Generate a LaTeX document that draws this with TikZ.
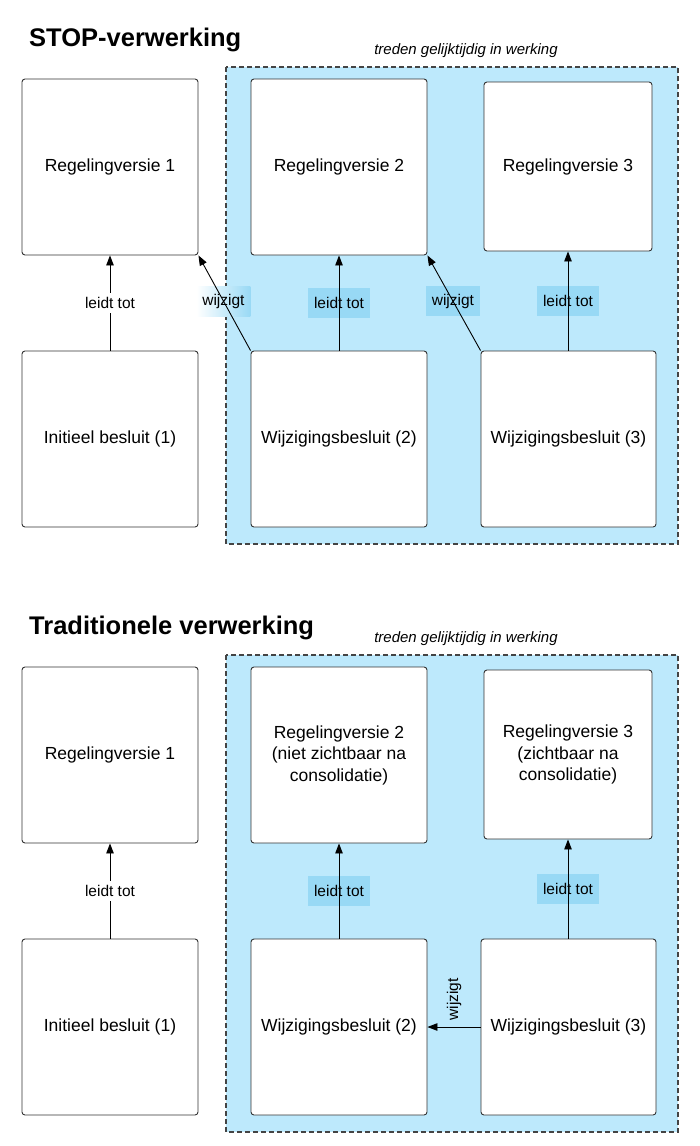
\documentclass[tikz,border=0pt]{standalone}
\usepackage{fontspec}
\setmainfont{Liberation Sans}
\usetikzlibrary{arrows.meta}
\definecolor{regionblue}{HTML}{BDE9FC}
\definecolor{labelblue}{HTML}{98D9F5}
\definecolor{boxline}{HTML}{333333}
\definecolor{dashline}{HTML}{444444}
\begin{document}
\begin{tikzpicture}[x=1pt,y=-1pt,
  box/.style={draw=boxline, line width=0.9pt, rounded corners=3pt, fill=white,
    minimum width=176pt, minimum height=176pt, inner sep=2pt, align=center,
    font=\fontsize{17.5}{21.5}\selectfont},
  smallbox/.style={box, minimum width=168pt, minimum height=169pt},
  region/.style={draw=dashline, dash pattern=on 5pt off 3pt, line width=1.1pt, fill=regionblue},
  arr/.style={-{Triangle[length=10pt,width=7.5pt]}, line width=0.9pt, draw=black},
  lbl/.style={font=\fontsize{15.5}{18}\selectfont, inner sep=0pt, minimum height=30pt},
  bluelbl/.style={lbl, behind path, fill=labelblue, minimum width=62pt},
  wlbl/.style={lbl, behind path, minimum width=54pt},
  title/.style={anchor=base west, inner sep=0pt, font=\fontsize{25.5}{30}\selectfont\bfseries},
  note/.style={anchor=base, inner sep=0pt, font=\fontsize{15}{18}\selectfont\itshape}
]
\useasboundingbox (0,0) rectangle (700,1146);
\fill[white] (0,0) rectangle (700,1146);

% ---------- STOP-verwerking ----------
\node[title] (t1) at (29,46) {STOP-verwerking};
\node[note] (n1) at (466,54.5) {treden gelijktijdig in werking};
\draw[region] (226,67) rectangle (678,544);

\node[box] (r1) at (110,167) {Regelingversie 1};
\node[box] (r2) at (339,167) {Regelingversie 2};
\node[smallbox] (r3) at (568,166.5) {Regelingversie 3};
\node[box] (i1) at (110,439) {Initieel besluit (1)};
\node[box] (w2) at (339,439) {Wijzigingsbesluit (2)};
\node[box, minimum width=175pt] (w3) at (568.5,439) {Wijzigingsbesluit (3)};

\draw[arr] (i1.north) -- node[lbl, fill=white, minimum height=20pt, inner sep=2pt] {leidt tot} (r1.south);
\draw[arr] (w2.north) -- node[bluelbl] {leidt tot} (r2.south);
\draw[arr] (w3.north -| r3.south) -- node[bluelbl] {leidt tot} (r3.south);
\draw[arr] (w2.north west) -- node[wlbl, left color=white, right color=labelblue, pos=0.52] {wijzigt} (r1.south east);
\draw[arr] (w3.north west) -- node[wlbl, fill=labelblue, pos=0.52] {wijzigt} (r2.south east);

% ---------- Traditionele verwerking ----------
\node[title] (t2) at (29,634) {Traditionele verwerking};
\node[note] (n2) at (466,642.5) {treden gelijktijdig in werking};
\draw[region] (226,655) rectangle (678,1132);

\node[box] (r1b) at (110,755) {Regelingversie 1};
\node[box] (r2b) at (339,755) {Regelingversie 2\\(niet zichtbaar na\\consolidatie)};
\node[smallbox] (r3b) at (568,754.5) {Regelingversie 3\\(zichtbaar na\\consolidatie)};
\node[box] (i1b) at (110,1027) {Initieel besluit (1)};
\node[box] (w2b) at (339,1027) {Wijzigingsbesluit (2)};
\node[box, minimum width=175pt] (w3b) at (568.5,1027) {Wijzigingsbesluit (3)};

\draw[arr] (i1b.north) -- node[lbl, fill=white, minimum height=20pt, inner sep=2pt] {leidt tot} (r1b.south);
\draw[arr] (w2b.north) -- node[bluelbl] {leidt tot} (r2b.south);
\draw[arr] (w3b.north -| r3b.south) -- node[bluelbl] {leidt tot} (r3b.south);
\draw[arr] (w3b.west) -- node[font=\fontsize{15.5}{18}\selectfont, rotate=90, anchor=west, inner sep=6pt] {wijzigt} (w2b.east);
\end{tikzpicture}
\end{document}
